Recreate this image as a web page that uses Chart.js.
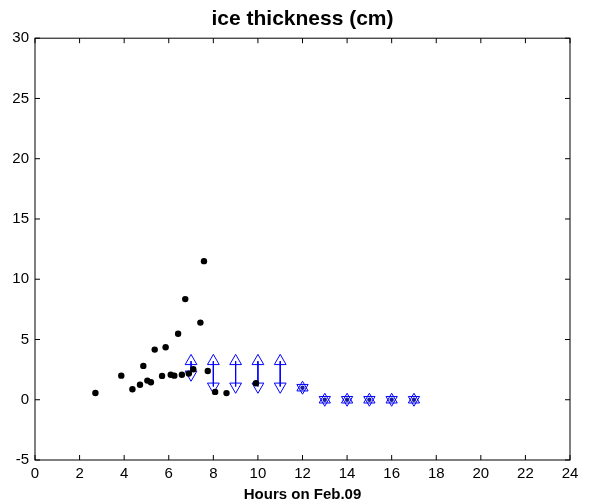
<!DOCTYPE html>
<html>
<head>
<meta charset="utf-8">
<script src="https://cdn.jsdelivr.net/npm/chart.js@4"></script>
<style>
	body { margin: 0; background: #fff; }
	#wrap { width: 595px; height: 504px; }
</style>
</head>
<body>
<div id="wrap"><canvas id="ice" width="595" height="504"></canvas></div>
<script>
// measured ice thickness (black dots)
const obsHours = [2.71, 3.87, 4.37, 4.71, 4.86, 5.04, 5.20, 5.37, 5.70, 5.86, 6.09, 6.25, 6.42, 6.59, 6.74, 6.90, 7.10, 7.42, 7.58, 7.75, 8.08, 8.59, 9.91]
const obsThickness = [0.56, 2.0, 0.87, 1.25, 2.81, 1.59, 1.45, 4.16, 1.98, 4.36, 2.08, 2.0, 5.47, 2.08, 8.35, 2.17, 2.53, 6.40, 11.5, 2.39, 0.65, 0.55, 1.37]

// estimated ranges (blue arrows)
const rangeHours = [7, 8, 9, 10, 11]
const rangeMax = [3.2, 3.2, 3.2, 3.2, 3.2]
const rangeMin = [2.1, 1.1, 1.1, 1.1, 1.1]

// single estimates (blue stars)
const starHours = [12, 13, 14, 15, 16, 17]
const starThickness = [1.0, 0, 0, 0, 0, 0]

const xTicks = [0, 2, 4, 6, 8, 10, 12, 14, 16, 18, 20, 22, 24]
const yTicks = [-5, 0, 5, 10, 15, 20, 25, 30]

const FONT = '"Liberation Sans", Arial, Helvetica, sans-serif'
const BLUE = '#0000ff'

const toPoints = (xs, ys) => xs.map((x, i) => ({ x: x, y: ys[i] }))

const datasets = [
	{
		data: toPoints(obsHours, obsThickness),
		pointRadius: 3.2,
		pointBackgroundColor: '#000',
		pointBorderWidth: 0,
		showLine: false,
	},
]

rangeHours.forEach((h, i) => {
	datasets.push({
		data: [{ x: h, y: rangeMax[i] }, { x: h, y: rangeMin[i] }],
		showLine: true,
		borderColor: BLUE,
		borderWidth: 1,
		pointStyle: 'triangle',
		pointRotation: [0, 180],
		pointRadius: 6.8,
		pointBorderColor: BLUE,
		pointBorderWidth: 1,
		pointBackgroundColor: 'rgba(0,0,0,0)',
	})
})

// two opposed triangles on the same point make the star
;[0, 180].forEach(rot => {
	datasets.push({
		data: toPoints(starHours, starThickness),
		showLine: false,
		pointStyle: 'triangle',
		pointRotation: rot,
		pointRadius: 6.5,
		pointBorderColor: BLUE,
		pointBorderWidth: 1,
		pointBackgroundColor: 'rgba(0,0,0,0)',
	})
})
datasets.push({
	data: toPoints(starHours, starThickness),
	showLine: false,
	pointRadius: 2.2,
	pointBackgroundColor: '#1a1aa0',
	pointBorderWidth: 0,
})

// box round the plot with inward ticks on every side
const frame = {
	id: 'frame',
	afterDraw(chart) {
		const { ctx, chartArea: a, scales: { x, y } } = chart
		const len = 5
		ctx.save()
		ctx.strokeStyle = '#000'
		ctx.lineWidth = 1
		ctx.strokeRect(a.left, a.top, a.right - a.left, a.bottom - a.top)
		ctx.beginPath()
		xTicks.forEach(v => {
			const px = x.getPixelForValue(v)
			ctx.moveTo(px, a.bottom); ctx.lineTo(px, a.bottom - len)
			ctx.moveTo(px, a.top); ctx.lineTo(px, a.top + len)
		})
		yTicks.forEach(v => {
			const py = y.getPixelForValue(v)
			ctx.moveTo(a.left, py); ctx.lineTo(a.left + len, py)
			ctx.moveTo(a.right, py); ctx.lineTo(a.right - len, py)
		})
		ctx.stroke()
		ctx.restore()
	}
}

new Chart(document.getElementById('ice'), {
	type: 'scatter',
	data: { datasets: datasets },
	options: {
		responsive: false,
		animation: false,
		layout: { padding: { left: 0, right: 25, top: 0, bottom: 0 } },
		plugins: {
			legend: { display: false },
			tooltip: { enabled: false },
			title: {
				display: true,
				fullSize: false,
				text: 'ice thickness (cm)',
				color: '#000',
				font: { family: FONT, size: 21, weight: 'bold', lineHeight: 1.2 },
				padding: { top: 7, bottom: 6 },
			},
		},
		scales: {
			x: {
				type: 'linear',
				min: 0,
				max: 24,
				afterBuildTicks: scale => { scale.ticks = xTicks.map(v => ({ value: v })) },
				afterFit: scale => { scale.height = 44 },
				grid: { display: false, drawTicks: false },
				border: { display: false },
				ticks: {
					color: '#000',
					font: { family: FONT, size: 15 },
					padding: 5,
					maxRotation: 0,
					autoSkip: false,
				},
				title: {
					display: true,
					text: 'Hours on Feb.09',
					color: '#000',
					font: { family: FONT, size: 15, weight: 'bold', lineHeight: 1.2 },
					padding: { top: 0, bottom: 0 },
				},
			},
			y: {
				type: 'linear',
				min: -5,
				max: 30,
				afterBuildTicks: scale => { scale.ticks = yTicks.map(v => ({ value: v })) },
				afterFit: scale => { scale.width = 35 },
				grid: { display: false, drawTicks: false },
				border: { display: false },
				ticks: {
					color: '#000',
					font: { family: FONT, size: 15 },
					padding: 6,
					autoSkip: false,
				},
			},
		},
	},
	plugins: [frame],
})
</script>
</body>
</html>
